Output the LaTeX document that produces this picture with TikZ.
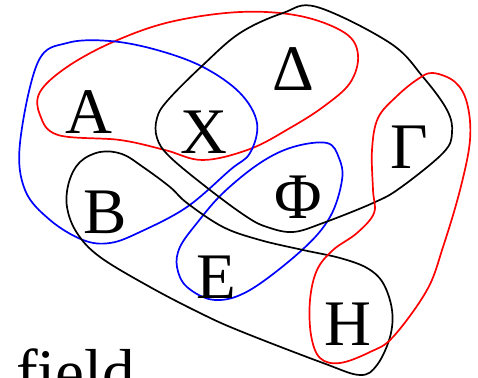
\documentclass[tikz,border=0pt]{standalone}
\usepackage{fontspec}
\setmainfont{Liberation Serif}
\begin{document}
\begin{tikzpicture}[x=1pt,y=-1pt,
  lab/.style={font=\fontsize{65}{70}\selectfont, inner sep=0pt, anchor=base},
  curve/.style={line width=1.7pt}]
\useasboundingbox (0,0) rectangle (478,377);
% red 1
\draw[red, curve] plot[smooth cycle, tension=0.6] coordinates {
 (240,12) (300,16) (345,33) (358,55) (350,83) (323,107) (290,128) (250,149)
 (203,160) (165,150) (120,140) (58,135) (40,115) (40,92) (67,67) (113,42) (170,22)};
% blue 1
\draw[blue, curve] plot[smooth cycle, tension=0.6] coordinates {
 (110,41) (157,50) (203,67) (240,93) (257,123) (250,153) (230,170) (187,207)
 (140,232) (110,243) (83,240) (50,220) (25,190) (20,143) (38,62) (67,43)};
% blue 2
\draw[blue, curve] plot[smooth cycle, tension=0.6] coordinates {
 (327,143) (339,158) (342,180) (330,217) (302,250) (250,290) (215,300)
 (187,287) (177,267) (180,247) (197,223) (223,193) (260,163) (293,147)};
% black 1
\draw[black, curve] plot[smooth cycle, tension=0.6] coordinates {
 (317,7) (390,43) (423,77) (447,110) (452,133) (443,153) (400,188) (373,203)
 (323,223) (293,232) (267,227) (247,217) (210,190) (170,157) (157,138)
 (157,118) (168,100) (203,65) (240,33) (283,13)};
% black 2
\draw[black, curve] plot[smooth cycle, tension=0.6] coordinates {
 (100,152) (122,154) (143,167) (170,187) (187,203) (223,227) (260,240)
 (303,250) (340,258) (367,268) (383,283) (392,310) (390,337) (377,365)
 (360,375) (323,363) (240,331) (200,313) (150,287) (100,257) (77,233)
 (67,207) (69,182) (80,162)};
% red 2
\draw[red, curve] plot[smooth cycle, tension=0.6] coordinates {
 (433,73) (455,82) (467,103) (470,140) (460,190) (443,247) (427,290)
 (393,337) (370,352) (340,363) (320,358) (311,335) (310,300) (317,270)
 (333,250) (357,233) (374,213) (373,190) (372,150) (378,118) (397,96) (418,79)};
\node[lab] (A) at (89,133) {Α};
\node[lab] (X) at (204,153) {Χ};
\node[lab] (D) at (293,91) {Δ};
\node[lab] (G) at (409,168) {Γ};
\node[lab] (B) at (105,233) {Β};
\node[lab] (F) at (298,218) {Φ};
\node[lab] (E) at (216,298) {Ε};
\node[lab] (H) at (348,345) {Η};
\node[lab, anchor=base west] (field) at (16,394) {field};
\end{tikzpicture}
\end{document}
